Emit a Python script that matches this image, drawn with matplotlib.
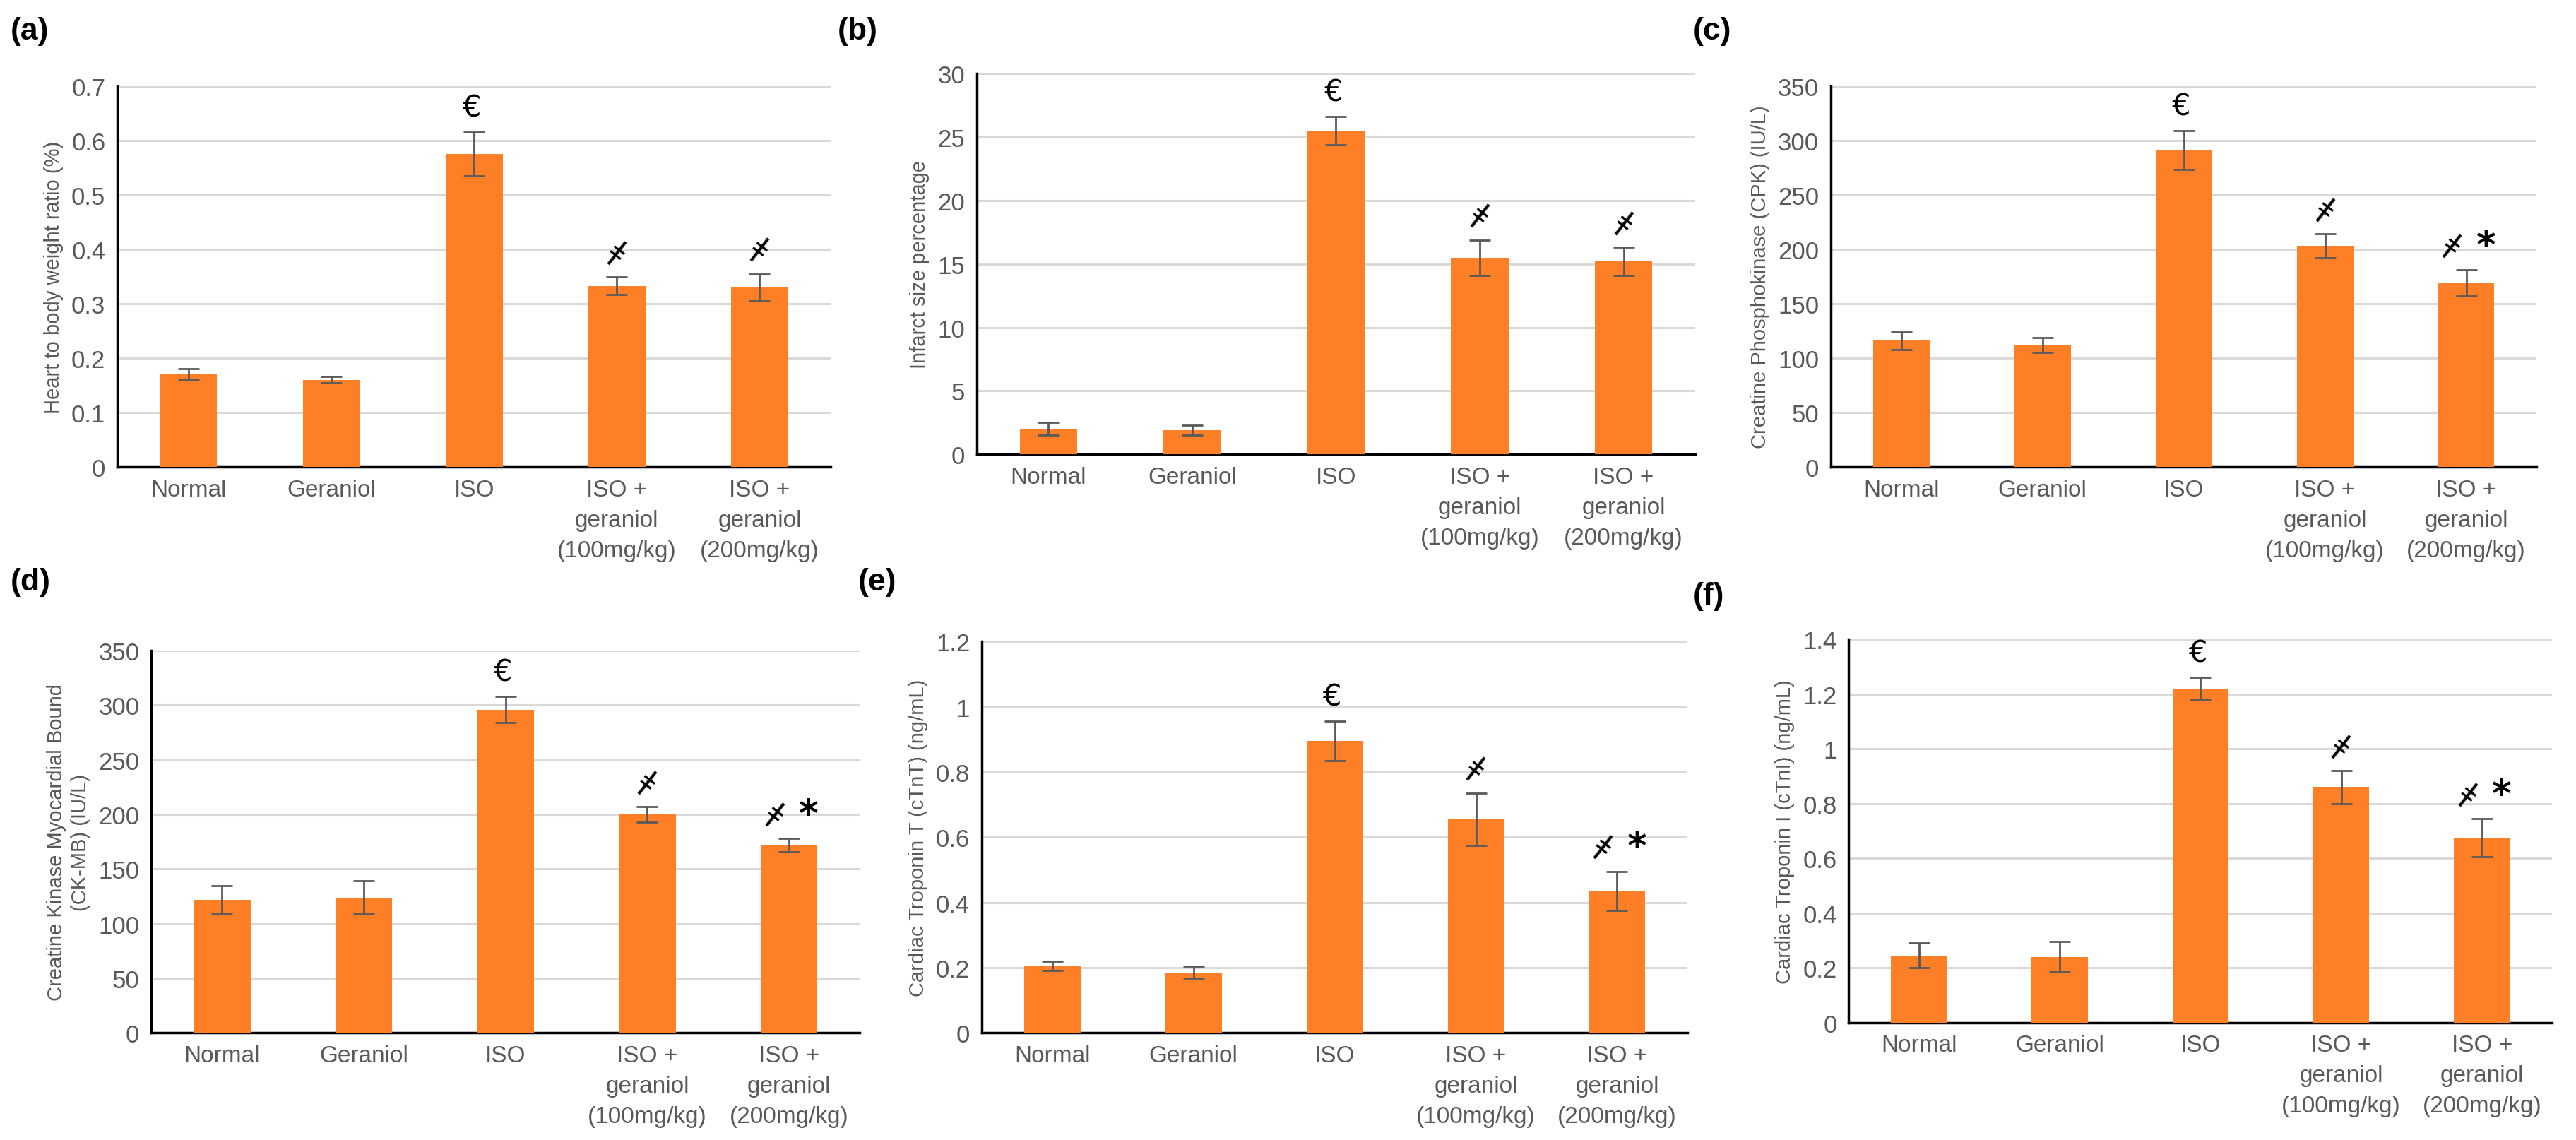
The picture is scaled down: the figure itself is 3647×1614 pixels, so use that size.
import numpy as np
import matplotlib
matplotlib.use("Agg")
import matplotlib.pyplot as plt

# Groups on the x axis
groups = ["Normal", "Geraniol", "ISO", "ISO +\ngeraniol\n(100mg/kg)", "ISO +\ngeraniol\n(200mg/kg)"]

# Means and error bars
hw_mean = [0.17, 0.16, 0.575, 0.333, 0.33]
hw_err = [0.010, 0.006, 0.040, 0.016, 0.025]
inf_mean = [2.0, 1.9, 25.5, 15.5, 15.2]
inf_err = [0.5, 0.4, 1.1, 1.4, 1.1]
cpk_mean = [116, 112, 291, 203, 169]
cpk_err = [8, 7, 18, 11, 12]
ckmb_mean = [122, 124, 296, 200, 172]
ckmb_err = [13, 15, 12, 7, 6]
ctnt_mean = [0.205, 0.185, 0.895, 0.655, 0.435]
ctnt_err = [0.015, 0.018, 0.060, 0.080, 0.060]
ctni_mean = [0.245, 0.24, 1.22, 0.86, 0.675]
ctni_err = [0.045, 0.055, 0.040, 0.060, 0.070]

# significance marks per bar
marks_ab = ["", "", "€", "ǂ", "ǂ"]
marks_cf = ["", "", "€", "ǂ", "ǂ*"]

panels = [
    ("(a)", hw_mean, hw_err, "Heart to body weight ratio (%)", 0.7, 0.1, marks_ab),
    ("(b)", inf_mean, inf_err, "Infarct size percentage", 30, 5, marks_ab),
    ("(c)", cpk_mean, cpk_err, "Creatine Phosphokinase (CPK) (IU/L)", 350, 50, marks_cf),
    ("(d)", ckmb_mean, ckmb_err, "Creatine Kinase Myocardial Bound\n(CK-MB) (IU/L)", 350, 50, marks_cf),
    ("(e)", ctnt_mean, ctnt_err, "Cardiac Troponin T (cTnT) (ng/mL)", 1.2, 0.2, marks_cf),
    ("(f)", ctni_mean, ctni_err, "Cardiac Troponin I (cTnI) (ng/mL)", 1.4, 0.2, marks_cf),
]

# axes rectangles [left, bottom, width, height] in figure fractions
rects = [
    [0.0455, 0.590, 0.277, 0.334],
    [0.379, 0.601, 0.279, 0.334],
    [0.7105, 0.590, 0.274, 0.334],
    [0.0587, 0.094, 0.275, 0.335],
    [0.381, 0.094, 0.274, 0.343],
    [0.7175, 0.103, 0.273, 0.336],
]
letter_pos = [(0.004, 0.985), (0.325, 0.985), (0.657, 0.985),
              (0.004, 0.502), (0.333, 0.502), (0.657, 0.49)]

orange = "#FF7F27"
gray = "#595959"

fig = plt.figure(figsize=(36.48, 16.15), dpi=100)

for (letter, mean, err, ylabel, ymax, step, marks), rect, lp in zip(panels, rects, letter_pos):
    ax = fig.add_axes(rect)
    x = np.arange(len(groups))
    ax.bar(x, mean, width=0.4, color=orange, zorder=3)
    ax.errorbar(x, mean, yerr=err, fmt="none", ecolor=gray, elinewidth=2,
                capsize=11, capthick=2, zorder=4)
    ax.set_ylim(0, ymax)
    ax.set_xlim(-0.5, 4.5)
    ticks = np.round(np.arange(0, ymax + step / 2, step), 2)
    ax.set_yticks(ticks)
    ax.set_yticklabels([f"{t:g}" for t in ticks], fontsize=25, color=gray, family="Liberation Sans")
    ax.set_xticks(x)
    ax.set_xticklabels(groups, fontsize=24, color=gray, family="Liberation Sans", linespacing=1.5)
    ax.tick_params(axis="both", length=0, pad=12)
    ax.yaxis.grid(True, color="#D9D9D9", linewidth=2.2, zorder=0)
    ax.set_axisbelow(True)
    for s in ["top", "right"]:
        ax.spines[s].set_visible(False)
    ax.spines["left"].set_linewidth(2.5)
    ax.spines["bottom"].set_linewidth(2.5)
    ax.set_ylabel(ylabel, fontsize=21, color=gray, family="Liberation Sans", labelpad=8,
                  linespacing=1.3)

    for xi, m, e, mk in zip(x, mean, err, marks):
        if not mk:
            continue
        ytop = m + e + ymax * 0.025
        if mk == "€":
            ax.text(xi - 0.02, ytop, "€", ha="center", va="bottom", fontsize=30, family="DejaVu Sans")
        elif mk == "ǂ":
            ax.text(xi, ytop, "ǂ", ha="center", va="bottom", fontsize=30,
                    rotation=-38, family="DejaVu Sans")
        else:
            ax.text(xi - 0.1, ytop, "ǂ", ha="center", va="bottom", fontsize=30,
                    rotation=-38, family="DejaVu Sans")
            ax.text(xi + 0.14, ytop - ymax * 0.012, "*", ha="center", va="bottom",
                    fontsize=38, fontweight="bold", family="DejaVu Sans")

    fig.text(lp[0], lp[1], letter, fontsize=32, fontweight="bold", family="Liberation Sans",
             ha="left", va="top")

fig.savefig("out.png", dpi=100, facecolor="white")
